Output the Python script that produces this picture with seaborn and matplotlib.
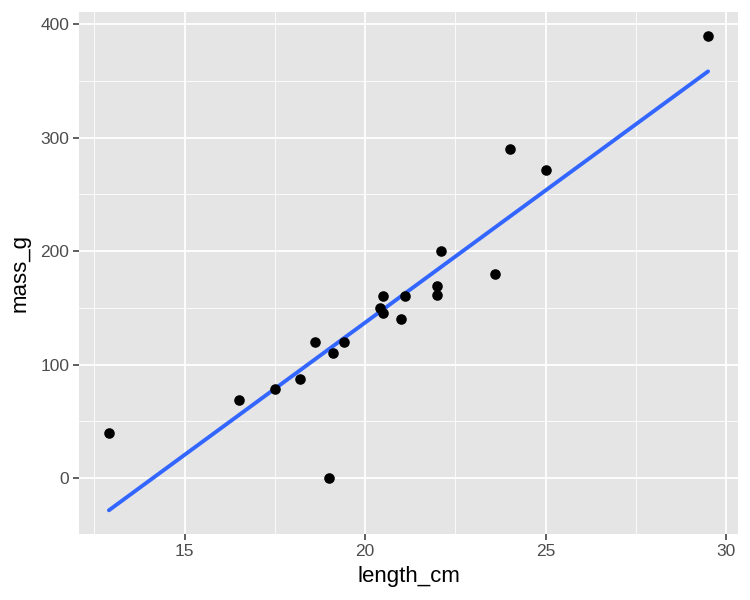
import numpy as np
import pandas as pd
import matplotlib
matplotlib.use("Agg")
import matplotlib.pyplot as plt
from matplotlib.ticker import MultipleLocator
import seaborn as sns

# Data
length_cm = [12.9, 16.5, 17.5, 18.2, 18.6, 19.0, 19.1, 19.4, 20.4, 20.5,
             20.5, 21.0, 21.1, 22.0, 22.0, 22.1, 23.6, 24.0, 25.0, 29.5]
mass_g = [40, 69, 78, 87, 120, 0, 110, 120, 150, 160,
          145, 140, 160, 169, 161, 200, 180, 290, 272, 390]

df = pd.DataFrame({"length_cm": length_cm, "mass_g": mass_g})

sns.set_theme(style="darkgrid", rc={
    "axes.facecolor": "#E5E5E5",
    "grid.color": "white",
    "axes.edgecolor": "#E5E5E5",
    "xtick.color": "#333333",
    "ytick.color": "#333333",
    "xtick.labelcolor": "#4D4D4D",
    "ytick.labelcolor": "#4D4D4D",
    "xtick.bottom": True,
    "ytick.left": True,
    "xtick.major.size": 4,
    "ytick.major.size": 4,
    "xtick.major.width": 1.1,
    "ytick.major.width": 1.1,
})
plt.rcParams["font.family"] = ["Liberation Sans", "DejaVu Sans"]

fig = plt.figure(figsize=(7.5, 6), dpi=100)
ax = fig.add_axes([0.1053, 0.11, 0.8787, 0.87])

sns.regplot(data=df, x="length_cm", y="mass_g", ci=None, ax=ax,
            scatter_kws={"color": "black", "s": 58, "linewidths": 0,
                         "alpha": 1, "zorder": 3},
            line_kws={"color": "#3366FF", "linewidth": 2.8, "zorder": 2})

# ggplot-like limits: data + fitted line, expanded by 5%
slope, icpt = np.polyfit(length_cm, mass_g, 1)
xmin, xmax = min(length_cm), max(length_cm)
fit_ends = [slope * xmin + icpt, slope * xmax + icpt]
ymin = min(min(mass_g), *fit_ends)
ymax = max(max(mass_g), *fit_ends)
xpad = (xmax - xmin) * 0.05
ypad = (ymax - ymin) * 0.05
ax.set_xlim(xmin - xpad, xmax + xpad)
ax.set_ylim(ymin - ypad, ymax + ypad)

ax.xaxis.set_major_locator(MultipleLocator(5))
ax.yaxis.set_major_locator(MultipleLocator(100))
ax.xaxis.set_minor_locator(MultipleLocator(2.5))
ax.yaxis.set_minor_locator(MultipleLocator(50))
ax.grid(which="major", color="white", linewidth=1.3)
ax.grid(which="minor", color="white", linewidth=0.6)
ax.tick_params(which="minor", length=0)
ax.tick_params(which="major", labelsize=12.5, pad=3)

for s in ax.spines.values():
    s.set_visible(False)

ax.set_xlabel("length_cm", fontsize=16, color="black", labelpad=5)
ax.set_ylabel("mass_g", fontsize=16, color="black", labelpad=7)

fig.savefig("out.png", dpi=100)
